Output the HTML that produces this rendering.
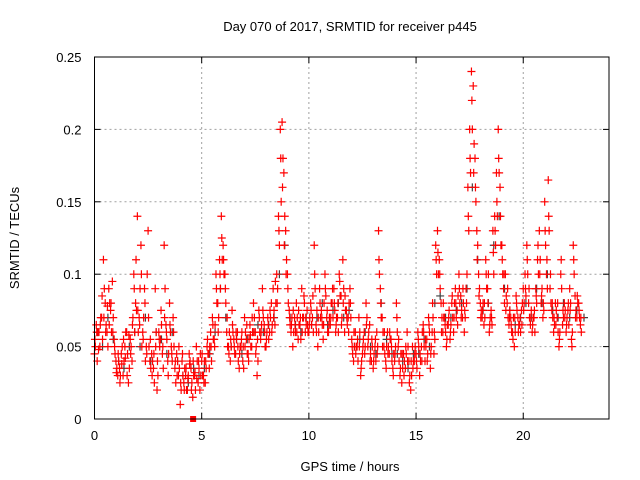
<!DOCTYPE html>
<html><head><meta charset="utf-8"><style>
body{margin:0;background:#fff;}
svg{display:block;font-family:"Liberation Sans",sans-serif;}
</style></head><body>
<svg id="chart" width="640" height="480" viewBox="0 0 640 480">
<text x="350" y="31" font-size="13" text-anchor="middle">Day 070 of 2017, SRMTID for receiver p445</text>
<text x="350" y="471" font-size="13" text-anchor="middle">GPS time / hours</text>
<text transform="translate(19,238) rotate(-90)" font-size="13" text-anchor="middle">SRMTID / TECUs</text>
<g id="grid"></g>
<g id="ticks"></g>
<g id="gray"></g>
<g id="red"></g>
<rect x="94.5" y="57" width="514.5" height="362" fill="none" stroke="#000" stroke-width="1"/>
</svg>
<script>
const xTicks=[0,5,10,15,20];
const yTicks=[0,0.05,0.1,0.15,0.2,0.25];
const yTickLabels=["0","0.05","0.1","0.15","0.2","0.25"];
const valsA=[
[0.045,0.065,0.06,0.05,0.07,0.11,0.08,0.06,0.09,0.075,0.095,0.055],
[0.04,0.03,0.035,0.045,0.03,0.05,0.06,0.025,0.055,0.04,0.1,0.08],
[0.14,0.07,0.12,0.06,0.09,0.05,0.13,0.04,0.045,0.035,0.09,0.02],
[0.06,0.055,0.045,0.12,0.065,0.04,0.08,0.05,0.07,0.035,0.045,0.03],
[0.01,0.04,0.025,0.03,0.02,0.045,0.035,0.015,0.03,0.05,0.025,0.02],
[0.04,0.03,0.025,0.05,0.045,0.06,0.07,0.055,0.1,0.08,0.11,0.14],
[0.12,0.1,0.06,0.05,0.04,0.075,0.055,0.045,0.06,0.035,0.05,0.04],
[0.07,0.055,0.045,0.065,0.05,0.08,0.06,0.03,0.075,0.055,0.09,0.065],
[0.05,0.07,0.06,0.08,0.09,0.065,0.1,0.14,0.2,0.205,0.17,0.13],
[0.1,0.075,0.06,0.05,0.07,0.08,0.055,0.065,0.09,0.07,0.06,0.075],
[0.06,0.08,0.07,0.12,0.065,0.05,0.09,0.075,0.055,0.1,0.07,0.06],
[0.065,0.08,0.09,0.06,0.07,0.1,0.085,0.11,0.06,0.075,0.07,0.09],
[0.055,0.04,0.06,0.05,0.07,0.03,0.045,0.06,0.08,0.05,0.065,0.04],
[0.035,0.05,0.06,0.13,0.09,0.07,0.05,0.04,0.06,0.045,0.055,0.035],
[0.04,0.08,0.05,0.03,0.025,0.045,0.035,0.06,0.04,0.02,0.05,0.04],
[0.045,0.06,0.03,0.05,0.065,0.04,0.055,0.07,0.035,0.06,0.045,0.12],
[0.13,0.11,0.08,0.06,0.07,0.05,0.065,0.055,0.08,0.06,0.09,0.075],
[0.1,0.085,0.07,0.06,0.09,0.16,0.2,0.24,0.23,0.18,0.13,0.1],
[0.08,0.07,0.065,0.11,0.09,0.06,0.075,0.13,0.14,0.17,0.2,0.16],
[0.12,0.09,0.1,0.08,0.065,0.07,0.06,0.05,0.085,0.07,0.065,0.075],
[0.09,0.1,0.12,0.08,0.065,0.06,0.07,0.09,0.11,0.13,0.08,0.07],
[0.15,0.1,0.165,0.09,0.075,0.06,0.08,0.07,0.05,0.1,0.065,0.08],
[0.06,0.075,0.09,0.055,0.12,0.085,0.07,0.08,0.065]];
const valsB=[
[0.05,0.04,0.06,0.07,0.055,0.09,0.065,0.05,0.08,0.06,0.07,0.045],
[0.035,0.04,0.03,0.05,0.04,0.06,0.045,0.035,0.05,0.07,0.06,0.075],
[0.06,0.09,0.05,0.07,0.04,0.1,0.05,0.035,0.04,0.025,0.06,0.03],
[0.05,0.065,0.035,0.09,0.055,0.045,0.06,0.04,0.05,0.025,0.04,0.035],
[0.02,0.03,0.035,0.02,0.03,0.04,0.025,0.03,0.02,0.04,0.035,0.03],
[0.03,0.04,0.035,0.045,0.05,0.04,0.055,0.065,0.08,0.07,0.09,0.11],
[0.1,0.08,0.05,0.06,0.05,0.06,0.045,0.055,0.04,0.05,0.06,0.035],
[0.06,0.045,0.055,0.05,0.06,0.07,0.05,0.04,0.06,0.065,0.07,0.05],
[0.06,0.055,0.07,0.065,0.075,0.08,0.09,0.12,0.15,0.18,0.14,0.11],
[0.08,0.065,0.07,0.06,0.06,0.07,0.065,0.055,0.07,0.08,0.065,0.06],
[0.07,0.065,0.06,0.09,0.075,0.06,0.07,0.065,0.08,0.085,0.06,0.07],
[0.08,0.07,0.075,0.07,0.06,0.085,0.07,0.09,0.075,0.065,0.08,0.07],
[0.045,0.05,0.05,0.04,0.06,0.04,0.055,0.05,0.07,0.06,0.045,0.05],
[0.045,0.04,0.05,0.1,0.07,0.06,0.045,0.05,0.05,0.055,0.04,0.045],
[0.05,0.06,0.04,0.045,0.035,0.04,0.045,0.05,0.03,0.03,0.04,0.05],
[0.035,0.05,0.04,0.06,0.05,0.05,0.045,0.06,0.05,0.07,0.055,0.1],
[0.1,0.09,0.07,0.07,0.06,0.065,0.075,0.065,0.07,0.08,0.07,0.085],
[0.08,0.075,0.08,0.07,0.1,0.13,0.17,0.2,0.19,0.15,0.12,0.09],
[0.075,0.08,0.07,0.09,0.1,0.07,0.065,0.1,0.12,0.14,0.17,0.12],
[0.1,0.08,0.085,0.07,0.075,0.06,0.07,0.06,0.075,0.065,0.06,0.08],
[0.08,0.085,0.1,0.07,0.075,0.07,0.06,0.08,0.1,0.11,0.09,0.075],
[0.12,0.09,0.13,0.08,0.07,0.065,0.075,0.06,0.06,0.09,0.07,0.075],
[0.07,0.065,0.08,0.06,0.1,0.075,0.08,0.07,0.06]];
const valsC=[
[0.055,0.06,0.048,0.065,0.085,0.07,0.06,0.078,0.065,0.08,0.06,0.05],
[0.032,0.045,0.025,0.038,0.055,0.042,0.03,0.058,0.045,0.065,0.09,0.11],
[0.075,0.065,0.1,0.055,0.08,0.045,0.07,0.055,0.03,0.045,0.05,0.04],
[0.055,0.075,0.05,0.07,0.06,0.03,0.065,0.045,0.06,0.04,0.03,0.05],
[0.025,0.045,0.02,0.035,0.028,0.038,0.02,0.04,0.032,0.028,0.04,0.045],
[0.045,0.025,0.04,0.055,0.035,0.05,0.065,0.05,0.09,0.06,0.1,0.125],
[0.11,0.09,0.07,0.045,0.055,0.065,0.05,0.06,0.05,0.045,0.055,0.05],
[0.05,0.065,0.04,0.058,0.07,0.06,0.045,0.055,0.07,0.06,0.075,0.06],
[0.055,0.065,0.075,0.06,0.07,0.095,0.08,0.13,0.18,0.16,0.12,0.1],
[0.09,0.07,0.065,0.075,0.065,0.06,0.075,0.07,0.06,0.085,0.07,0.065],
[0.065,0.075,0.085,0.1,0.06,0.07,0.08,0.07,0.065,0.09,0.075,0.065],
[0.07,0.09,0.08,0.065,0.08,0.095,0.065,0.08,0.085,0.07,0.06,0.08],
[0.05,0.06,0.045,0.055,0.05,0.035,0.05,0.045,0.065,0.055,0.04,0.055],
[0.04,0.055,0.045,0.11,0.08,0.05,0.06,0.035,0.045,0.06,0.05,0.03],
[0.045,0.07,0.055,0.035,0.045,0.03,0.05,0.04,0.025,0.04,0.035,0.045],
[0.04,0.055,0.045,0.04,0.06,0.055,0.04,0.065,0.045,0.08,0.06,0.11],
[0.115,0.1,0.06,0.08,0.065,0.055,0.07,0.06,0.085,0.07,0.08,0.065],
[0.09,0.07,0.09,0.075,0.08,0.14,0.18,0.22,0.17,0.16,0.11,0.085],
[0.07,0.075,0.08,0.1,0.08,0.065,0.07,0.115,0.13,0.15,0.18,0.14],
[0.11,0.1,0.075,0.09,0.07,0.065,0.055,0.07,0.08,0.06,0.07,0.065],
[0.075,0.09,0.11,0.09,0.07,0.065,0.075,0.085,0.12,0.1,0.085,0.08],
[0.13,0.11,0.14,0.1,0.08,0.07,0.065,0.08,0.055,0.11,0.075,0.07],
[0.065,0.08,0.075,0.05,0.11,0.07,0.085,0.075,0.07]];
const valsGray=[
[0.06,0.05,0.07,0.055],[0.04,0.035,0.05,0.06],[0.05,0.07,0.04,0.06],[0.055,0.045,0.06,0.04],
[0.03,0.025,0.035,0.03],[0.035,0.045,0.06,0.09],[0.07,0.05,0.055,0.045],[0.055,0.06,0.065,0.06],
[0.065,0.07,0.1,0.12],[0.07,0.065,0.06,0.07],[0.065,0.07,0.08,0.065],[0.075,0.08,0.07,0.075],
[0.05,0.055,0.06,0.05],[0.045,0.08,0.055,0.045],[0.045,0.04,0.035,0.045],[0.045,0.055,0.05,0.08],
[0.085,0.07,0.07,0.075],[0.08,0.09,0.16,0.11],[0.075,0.08,0.12,0.14],[0.09,0.075,0.065,0.07],
[0.08,0.07,0.09,0.08],[0.1,0.075,0.07,0.08],[0.07,0.075,0.07]];
const dropHour=4.6, dropVal=0;

const X0=94.5,X1=609,Y0=419,Y1=57,XMAX=24,YMAX=0.25;
const xs=h=>X0+(X1-X0)*h/XMAX;
const ys=v=>Y0-(Y0-Y1)*v/YMAX;
const NS="http://www.w3.org/2000/svg";
const grid=document.getElementById('grid'),ticks=document.getElementById('ticks');
function mk(tag,attrs,parent){const e=document.createElementNS(NS,tag);for(const k in attrs)e.setAttribute(k,attrs[k]);parent.appendChild(e);return e;}
xTicks.forEach(t=>{
  const x=xs(t);
  if(t>0){const g=mk('line',{x1:x,x2:x,y1:Y1,y2:Y0,stroke:'#a0a0a0','stroke-dasharray':'2,3'},grid);
  
  }
  const tk=mk('line',{x1:x,x2:x,y1:Y0,y2:Y0-6,stroke:'#000'},ticks);
  
  
  const tk2=mk('line',{x1:x,x2:x,y1:Y1,y2:Y1+6,stroke:'#000'},ticks);
  
  
  const l=mk('text',{x:x,y:Y0+21,'font-size':13,'text-anchor':'middle'},ticks);l.textContent=t;
  
  
});
yTicks.forEach((t,i)=>{
  const y=ys(t);
  if(t>0&&t<YMAX){const g=mk('line',{x1:X0,x2:X1,y1:y,y2:y,stroke:'#a0a0a0','stroke-dasharray':'2,3'},grid);
  
  }
  const tk=mk('line',{x1:X0,x2:X0+6,y1:y,y2:y,stroke:'#000'},ticks);
  
  
  const tk2=mk('line',{x1:X1,x2:X1-6,y1:y,y2:y,stroke:'#000'},ticks);
  
  
  const l=mk('text',{x:X0-13,y:y+5,'font-size':13,'text-anchor':'end'},ticks);l.textContent=yTickLabels[i];
  
  
});
function plus(parent,h,v,color){
  const x=xs(h),y=ys(v);
  const p=mk('path',{d:`M${x-4},${y}H${x+4}M${x},${y-4}V${y+4}`,stroke:color,'stroke-width':1.2,fill:'none'},parent);
  
  
}
const gG=document.getElementById('gray'),gR=document.getElementById('red');
valsGray.forEach((arr,h)=>arr.forEach((v,j)=>plus(gG,h+(j+0.5)/arr.length,v,'#404040')));
valsA.forEach((arr,h)=>arr.forEach((v,j)=>plus(gR,h+j/12,v,'#ff0000')));
valsB.forEach((arr,h)=>arr.forEach((v,j)=>plus(gR,h+(j+0.5)/12,v,'#ff0000')));
valsC.forEach((arr,h)=>arr.forEach((v,j)=>plus(gR,h+(j+0.25)/12,v,'#ff0000')));
const sq=mk('rect',{x:xs(dropHour)-3,y:ys(dropVal)-3,width:6,height:6,fill:'#ff0000'},gR);


</script>
</body></html>
